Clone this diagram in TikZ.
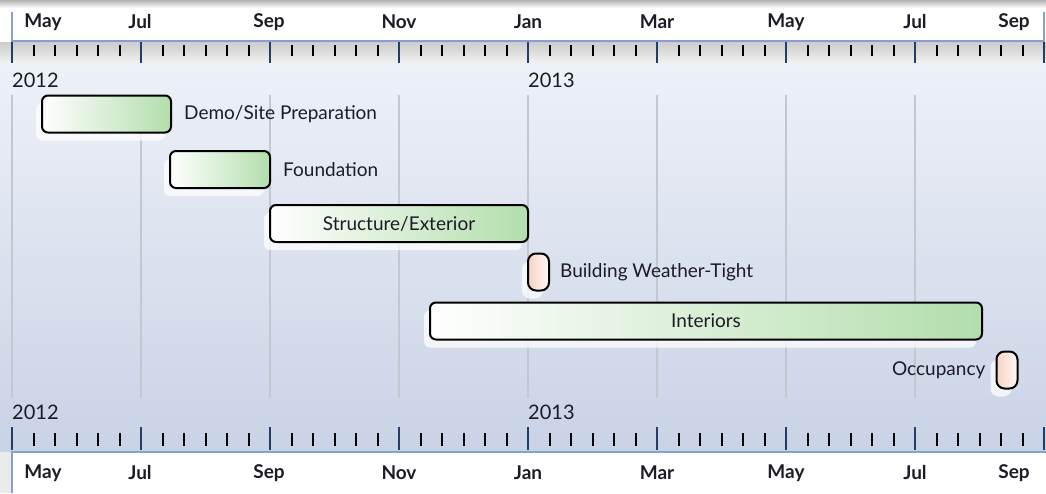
\documentclass[tikz,border=0pt]{standalone}
\usepackage{fontspec}
\setmainfont{Lato}
\usetikzlibrary{positioning, shadows}
\definecolor{bgtop}{HTML}{EEF1F8}
\definecolor{bgbot}{HTML}{C9D3E6}
\definecolor{axisblue}{HTML}{86A2CC}
\definecolor{tickblue}{HTML}{1F3F6A}
\definecolor{gridgray}{HTML}{C3C7CF}
\definecolor{taskgreen}{HTML}{B2DEAC}
\definecolor{mspink}{HTML}{F9D2C4}
\definecolor{labeltext}{HTML}{1C1C28}
\tikzset{
  task/.style={draw=black, line width=2pt, rounded corners=6pt, left color=white, right color=taskgreen,
    minimum height=37pt, inner sep=0pt, text=labeltext,
    drop shadow={shadow xshift=-6pt, shadow yshift=-8pt, fill=white, opacity=.75}},
  milestone/.style={draw=black, line width=2pt, rounded corners=8pt, left color=mspink, right color=white!85!mspink,
    minimum width=21pt, minimum height=37pt, inner sep=0pt,
    drop shadow={shadow xshift=-6pt, shadow yshift=-8pt, fill=white, opacity=.75}},
  tasklabel/.style={text=labeltext, font=\fontsize{19}{22}\selectfont, inner sep=0pt},
  monthlabel/.style={text=labeltext, font=\fontsize{19}{22}\selectfont\bfseries, inner sep=0pt},
  yearlabel/.style={text=labeltext, font=\fontsize{20}{22}\selectfont, anchor=west, inner sep=0pt},
  minortick/.style={line width=2pt, black},
  majortick/.style={line width=2pt, tickblue}
}
\begin{document}
\begin{tikzpicture}[x=1pt, y=-1pt]
  \useasboundingbox (0,0) rectangle (1046,493);
  % background
  \shade[top color=bgtop, bottom color=bgbot] (0,60) rectangle (1046,452);
  \shade[top color=black!30, bottom color=white] (0,0) rectangle (1046,8);
  \fill[white] (12,8) rectangle (1044,41);
  \shade[top color=black!20, bottom color=black!6] (0,42) rectangle (1046,62);
  \fill[white] (0,452) rectangle (1046,493);
  \fill[black!8] (0,452) rectangle (12,493);
  \draw[axisblue, line width=1.5pt] (12,12) -- (12,41) -- (1044,41) -- (1044,12);
  \draw[axisblue, line width=1.5pt] (12,493) -- (12,452) -- (1046,452);

  % grid lines
  \foreach \m in {0,...,7}
    \draw[gridgray, line width=2pt] (12+\m*129,95) -- (12+\m*129,398);

  % ticks
  \foreach \m in {0,...,7}
    \foreach \k in {1,...,5} {
      \draw[minortick] (12+\m*129+\k*21.5,45) -- (12+\m*129+\k*21.5,56);
      \draw[minortick] (12+\m*129+\k*21.5,433) -- (12+\m*129+\k*21.5,446);
    }
  \foreach \m in {0,...,8} {
    \draw[majortick] (12+\m*129,42) -- (12+\m*129,63);
    \draw[majortick] (12+\m*129,427) -- (12+\m*129,450);
  }

  % month and year labels
  \foreach \x/\mon in {43/May,140/Jul,269/Sep,399/Nov,528/Jan,657/Mar,786/May,915/Jul,1014/Sep} {
    \node[monthlabel] at (\x,22) {\mon};
    \node[monthlabel] at (\x,473) {\mon};
  }
  \node[yearlabel] (y12a) at (12,80) {2012};
  \node[yearlabel] (y13a) at (528,80) {2013};
  \node[yearlabel] (y12b) at (12,412) {2012};
  \node[yearlabel] (y13b) at (528,412) {2013};

  % tasks
  \node[task, minimum width=129pt] (demo) at (106.5,114) {};
  \node[tasklabel, right=12pt of demo] {Demo/Site Preparation};
  \node[task, minimum width=100pt] (found) at (220,169.5) {};
  \node[tasklabel, right=12pt of found] {Foundation};
  \node[task, minimum width=258pt, font=\fontsize{19}{22}\selectfont] (struct) at (399,223.5) {Structure/Exterior};
  \node[milestone] (weather) at (538.5,272) {};
  \node[tasklabel, right=10pt of weather] {Building Weather-Tight};
  \node[task, minimum width=552pt, font=\fontsize{19}{22}\selectfont] (inter) at (706,321) {Interiors};
  \node[milestone] (occup) at (1007,370) {};
  \node[tasklabel, left=10pt of occup] {Occupancy};
\end{tikzpicture}
\end{document}
